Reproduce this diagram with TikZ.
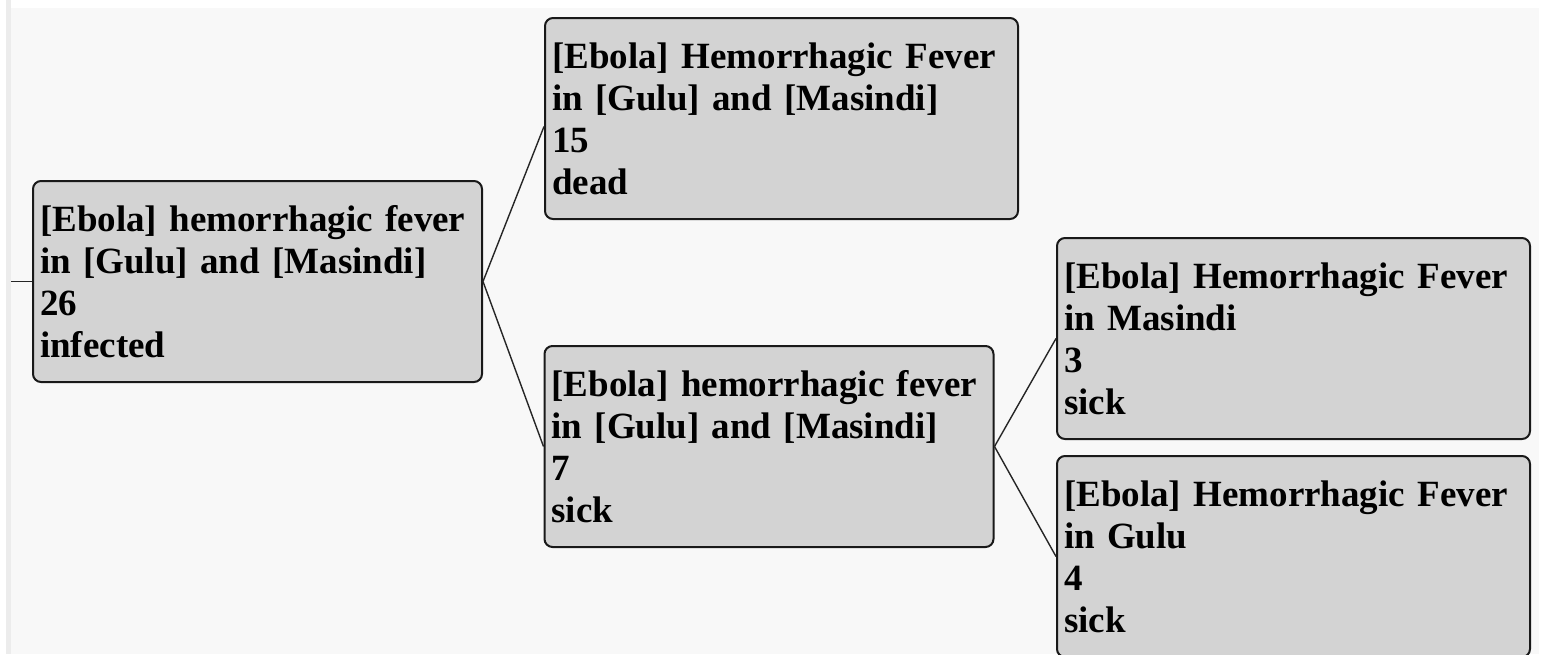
\documentclass[tikz,border=0pt]{standalone}
\usepackage{fontspec}
\setmainfont{Liberation Serif}
\usetikzlibrary{positioning}

\definecolor{boxgray}{RGB}{211,211,211}
\definecolor{bggray}{RGB}{248,248,248}
\definecolor{stripegray}{RGB}{236,236,236}

\begin{document}
\begin{tikzpicture}[x=0.5pt,y=-0.5pt]
		\tikzset{casebox/.style={draw=black!90,line width=1pt,fill=boxgray,rounded corners=4pt,
				minimum height=100.5pt,inner xsep=3.5pt,inner ysep=0pt,align=left,
				font=\fontsize{18.5}{21}\selectfont\bfseries}};
		\tikzset{wide/.style={casebox,minimum width=236.5pt,text width=229.5pt}};
		\tikzset{narrow/.style={casebox,minimum width=224.5pt,text width=217.5pt}};
		\tikzset{link/.style={draw=black!85,line width=0.7pt}};
		
		\useasboundingbox (0,0) rectangle (1542,654);
		\clip (0,0) rectangle (1542,654);
		\fill[white] (0,0) rectangle (1542,654);
		\fill[stripegray] (6,0) rectangle (11,654);
		\fill[bggray] (11,8) rectangle (1539,654);
		
		\node (all) at (257.5,281.5) [narrow]{[Ebola] hemorrhagic fever\\in [Gulu] and [Masindi]\\26\\infected};
		\node (dead) at (781.5,118.5) [wide]{[Ebola] Hemorrhagic Fever\\in [Gulu] and [Masindi]\\15\\dead};
		\node (sick) at (769,446.5) [narrow]{[Ebola] hemorrhagic fever\\in [Gulu] and [Masindi]\\7\\sick};
		\node (masindi) at (1293.5,338.5) [wide]{[Ebola] Hemorrhagic Fever\\in Masindi\\3\\sick};
		\node (gulu) at (1293.5,556.5) [wide]{[Ebola] Hemorrhagic Fever\\in Gulu\\4\\sick};
		
		\coordinate (root) at (11,281.5);
		\draw [link] (root) -- (all.west);
		\draw [link] (all.east) -- ([yshift=-4pt]dead.west);
		\draw [link] (all.east) -- (sick.west);
		\draw [link] (sick.east) -- (masindi.west);
		\draw [link] (sick.east) -- (gulu.west);
		\end{tikzpicture}
\end{document}
